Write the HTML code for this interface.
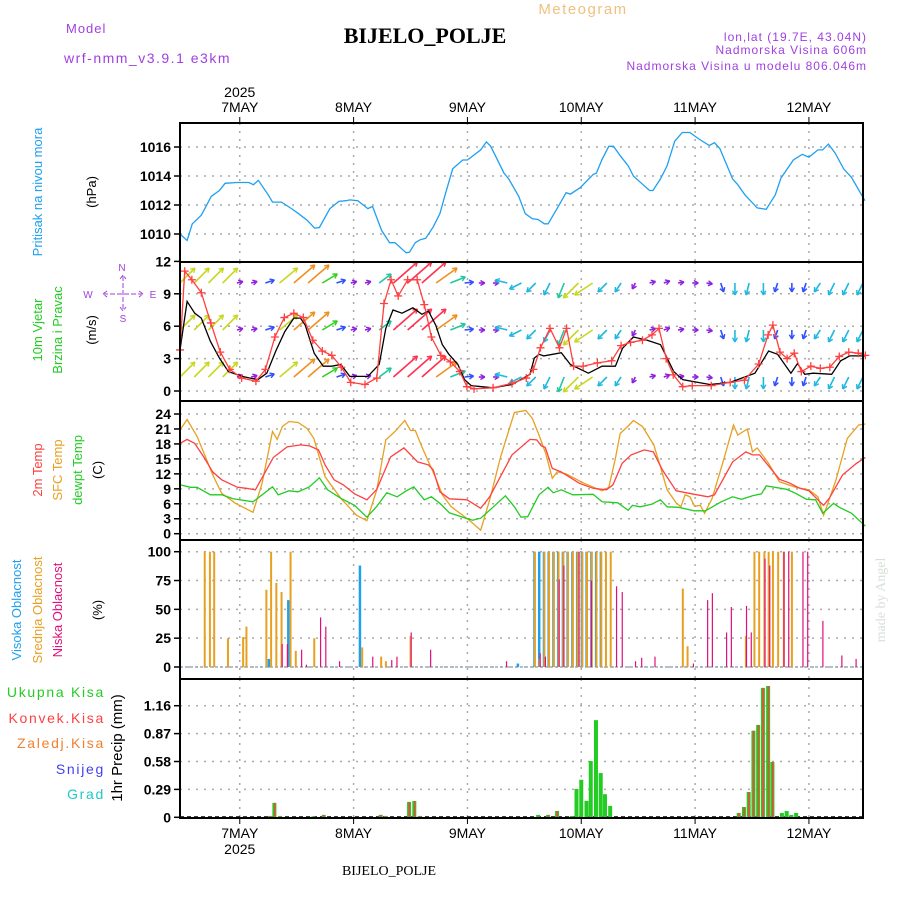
<!DOCTYPE html>
<html><head><meta charset="utf-8"><style>
body{margin:0;background:#fff;}
svg text{font-family:"Liberation Sans",sans-serif;}
</style></head><body>
<svg id="c" width="900" height="900" xmlns="http://www.w3.org/2000/svg">
<text x="66" y="33" font-size="13" fill="#a040e0" letter-spacing="1">Model</text>
<text x="64" y="63" font-size="14" fill="#a040e0" letter-spacing="1.5">wrf-nmm_v3.9.1 e3km</text>
<text x="425" y="43" font-size="22" font-weight="bold" text-anchor="middle" style="font-family:'Liberation Serif',serif" fill="#000">BIJELO_POLJE</text>
<text x="583" y="14" font-size="15" text-anchor="middle" fill="#f0c080" letter-spacing="1.5">Meteogram</text>
<text x="867" y="41" font-size="12" text-anchor="end" fill="#a040e0" letter-spacing="1">lon,lat (19.7E, 43.04N)</text>
<text x="867" y="54" font-size="12" text-anchor="end" fill="#a040e0" letter-spacing="1">Nadmorska Visina 606m</text>
<text x="867" y="70" font-size="12" text-anchor="end" fill="#a040e0" letter-spacing="1">Nadmorska Visina u modelu 806.046m</text>
<text x="389" y="875" font-size="14" text-anchor="middle" style="font-family:'Liberation Serif',serif" fill="#000">BIJELO_POLJE</text>
<text transform="translate(885,600) rotate(-90)" font-size="14" text-anchor="middle" style="font-family:'Liberation Serif',serif" fill="#d8e0d8">made by Angel</text>
<g id="g"></g>
</svg>
<script>
// ---- data ----
const dayLabels=["7MAY","8MAY","9MAY","10MAY","11MAY","12MAY"];
const dayHours=[12.6,36.6,60.6,84.6,108.6,132.6];
const presHours=[0,1.5,2.6,4.5,6.6,8.3,9.5,12,14.5,15.5,16.5,18.6,19.5,21.4,23.5,25,26.8,28.4,29.4,31.6,33.5,35,35.8,37.5,39.6,40.6,42.5,44.2,45.3,47.7,48.4,49.6,50.6,51.8,53.4,54.8,55.8,57.5,59.6,60.6,63.4,64.6,65.5,68.3,69.3,71.4,72.8,74.3,75.5,76.8,77.6,79.5,81.4,82.3,84.4,87.1,87.8,89,90.4,91.4,92.8,94.5,95.6,97.3,99,99.7,101.3,102.7,104.3,105.9,107.5,109.4,111.6,112.7,113.8,116.5,117.6,119.1,121.7,123.6,125.5,126.7,129.3,131.2,132.6,134.5,135.5,136.7,138.1,139.9,141.6,144.4];
const presVals=[1010.0,1009.55,1010.7,1011.3,1012.6,1013.0,1013.5,1013.55,1013.55,1013.4,1013.7,1012.7,1012.2,1012.2,1011.75,1011.4,1010.95,1010.4,1010.45,1011.75,1012.25,1012.3,1012.35,1012.3,1011.75,1011.9,1010.25,1009.4,1009.4,1008.7,1008.75,1009.4,1009.6,1009.7,1010.5,1011.4,1012.6,1014.5,1015.1,1015.1,1015.8,1016.35,1016.05,1014.2,1013.8,1012.6,1011.4,1011.05,1011.0,1010.7,1010.7,1011.75,1012.85,1012.75,1013.2,1014.1,1014.2,1015.15,1016.05,1016.05,1015.4,1014.7,1014.0,1013.5,1013.0,1013.0,1013.8,1014.7,1016.4,1017.0,1017.0,1016.55,1016.1,1016.3,1015.9,1013.8,1013.4,1012.7,1011.8,1011.7,1012.7,1013.85,1015.1,1015.5,1015.3,1015.8,1015.8,1016.2,1015.6,1014.5,1013.9,1012.3];
const windHours=[0,1.5,3.1,4.5,6.4,8.3,10.2,13.1,16.4,18.3,20.2,22.1,24,25.4,26.4,28.3,30.2,32,33.9,35.8,39.6,42,43.4,44.9,46.8,49.1,51,52.4,53.9,55.3,56.7,58.6,60,61.4,66,70,73.8,74.7,75.7,76.7,80.4,82.3,86.1,89,91.8,93.3,95.6,98.5,101.3,104.1,106,111.7,116,121.2,124.1,126,128.8,130.2,131.7,133.5,137.4,139.3,141.2,144.5];
const windSpeed=[3.8,8.3,7.2,6.75,4.6,3.05,1.8,1.35,1.05,1.65,3.7,5.5,6.75,6.75,6.1,3.5,2.3,2.3,2.45,1.35,1.35,2.45,5.8,7.5,7.2,7.7,7.1,7.4,6.1,4.3,3.4,2.45,1.05,0.5,0.3,0.6,1.55,3.05,3.4,3.25,3.55,2.45,1.65,2.3,2.3,3.95,5.0,4.7,4.3,1.8,1.05,0.6,0.8,1.65,3.7,3.4,1.65,2.55,1.55,1.65,1.55,2.8,3.25,3.25];
const gustHours=[0,1,2.5,4.5,6.5,8.5,10.5,13,16,18,20,22,24,26,28,30,32,34,36,39,41.5,43,44.5,46,48,50,51.5,53,55,57,59,60.5,62,66,70,73,74.5,76,78,80,81.5,83,85,88,91,93,95,97.5,99.5,101,102.5,104,106,108,112,116,119,122,124,125,126.5,128,129.5,131,133,135,137,139,141,143,144.5];
const gustSpeed=[3.8,11.1,10.3,9.1,6.3,3.6,2.0,1.2,0.9,2.0,5.0,6.8,7.2,6.8,4.7,3.7,3.3,2.2,0.8,0.6,1.2,8.1,10.3,8.8,10.3,10.3,8.0,5.0,3.3,2.7,1.8,0.4,0.2,0.3,0.7,1.2,2.0,4.0,5.8,4.0,5.8,2.3,2.3,2.6,2.8,4.2,4.5,4.7,5.2,5.8,3.0,1.5,0.4,0.5,0.5,0.8,1.0,2.5,5.2,6.1,3.6,3.0,3.5,1.8,2.3,2.1,2.2,3.2,3.6,3.5,3.3];
const arrowHours=[0,3,6,9,12,15,18,21,24,27,30,33,36,39,42,45,48,51,54,57,60,63,66,69,72,75,78,81,84,87,90,93,96,99,102,105,108,111,114,117,120,123,126,129,132,135,138,141,144];
const windU=[5,5,5,5,2,2,3,6,7,7,5,3,2,2,4,8,8,8,7,5,3,2,2,-4,-4,-3,-2,-2,-5,-6,-3,-2,-1,2,2,2,2,2,1,0,-1,0,-1,0,-1,-2,-2,-2,-2];
const windV=[5,5,5,5,0.5,0.5,1,5,6,6,3,1,0.5,0.5,3,7,7,7,5,2,0.3,0,0,1,-2,-3,-4,-5,-5,-4,-3,-3,-2,0.5,0.7,0.3,0,-0.3,-3,-4,-4,-4,-3,-3,-3,-3,-4,-4,-4];
const arrowLevels=[283,330,377];
const t2Hours=[0,1.5,3.1,5,6.9,8.8,12.1,14,15.9,19.7,22.6,25.4,27.3,29.2,30.6,32.5,34.4,36.8,39.4,41.5,44.4,47.2,50.1,52.4,53.4,54.8,56.8,60.5,63.4,65.3,70,73.8,75.2,76.2,77,78.5,80.4,84.2,87.1,89.9,91.3,93.2,95.1,97.9,99.8,101.7,104.6,107.9,111.3,112.7,116.5,119.3,120.7,122.2,126.4,128.4,130.7,132.6,134.5,135.7,136.9,139.7,142.6,144.5];
const t2Vals=[18.1,18.9,18.1,15.4,12.4,10.8,9.3,9.1,8.8,15.3,17.4,17.8,17.6,16.8,13.8,10.8,9.8,8.0,6.8,8.9,15.4,17.2,14.4,13.8,12.8,8.4,7.0,6.8,5.1,7.4,15.8,18.9,18.8,17.6,17.3,13.1,12.4,10.1,9.1,8.8,9.8,14.1,15.8,16.8,16.4,12.8,8.6,8.0,7.4,7.8,14.4,16.4,15.8,15.8,10.9,10.2,9.1,8.6,6.8,5.7,7.1,11.8,14.1,15.3];
const sfcHours=[0,1.5,3.6,5.5,6.9,8.8,11.7,15.4,17.3,19.5,20.5,21.6,23,24.9,26.8,28.2,30.6,33.9,37.2,39.4,41.5,43.4,45.3,47.4,48.6,49.6,51,53.8,55.3,57.2,61,63.4,65.3,67.6,70.5,72.9,74.3,75.7,77.1,78.5,79.5,81.4,85.2,89,90.4,91.8,92.8,94.7,95.6,97.5,99.9,101.3,102.7,104.6,105.6,106.5,107.5,108.5,109.7,110.6,112.2,114.6,116.7,117.6,119.6,120.7,121.7,124.1,126.4,129.8,132.6,134.5,135.7,136.6,138.3,140.7,143.1,144.5];
const sfcVals=[20.8,22.9,19.5,15.1,11.8,8.1,6.1,4.3,10.1,20.5,18.9,21.5,22.5,22.3,21.1,19.1,11.4,7.1,3.7,2.6,8.8,18.8,20.5,22.7,20.7,20.7,17.4,11.4,7.8,5.4,2.7,0.7,6.8,15.4,24.3,24.7,23.1,19.8,16.1,11.1,12.4,12.0,10.1,8.6,9.3,15.1,20.1,21.8,22.7,21.5,17.8,13.4,8.8,6.2,5.4,7.8,7.4,5.5,5.7,4.1,7.1,14.8,21.8,19.8,21.0,16.4,17.2,14.1,10.4,9.3,8.8,7.4,3.7,6.1,10.8,19.1,21.8,22.0];
const dewHours=[0,2.2,3.6,6.4,8.8,11.2,15.4,19.5,20.7,23,24.9,27.3,29.4,31.1,33.9,36.8,39.4,41.5,43.6,45.8,47.7,49.3,51.5,53,54.8,56.8,59.6,61.7,63.4,66.2,68.6,70.5,71.9,73.3,75.7,77.6,78.7,80.4,82.8,87.1,89,92.3,94.5,95.4,97,99.4,101.3,102.7,105.1,108.4,110.8,114.1,116.5,118.4,120.7,122.6,123.6,127.9,129.8,132.1,134,135.5,137.8,139,141.6,144.5];
const dewVals=[9.8,9.3,9.3,7.8,7.8,7.0,6.4,9.4,7.8,8.6,8.4,9.4,11.2,8.8,7.1,5.7,3.3,5.5,8.2,7.4,8.6,9.4,6.8,7.4,6.1,4.2,3.3,2.7,3.1,5.5,7.6,5.4,3.3,3.4,7.8,9.3,8.2,8.8,7.8,7.9,6.4,6.2,4.7,5.7,5.4,5.9,6.8,5.4,5.3,4.6,4.6,6.4,7.4,6.9,7.6,8.0,9.6,8.9,8.1,6.9,6.8,4.1,6.1,5.3,4.1,1.5];
const highHours=[19,23.1,38.2,71.5,75,76,77,78,79,80,81,82,83,84,85,86,87,88,89];
const highVals=[7,58,88,3,100,100,100,100,100,100,100,100,100,100,100,100,100,100,100];
const midHours=[5,6.1,7,9.9,13.1,13.8,18,19,20.1,21.2,23.1,24.2,28.1,38.2,42.2,43.2,48.4,74.6,75.6,76.6,77.6,78.6,79.6,80.6,81.6,82.6,83.6,84.6,85.6,86.6,87.6,88.6,89.6,90.6,105.8,106.8,119.1,120.9,121.9,123,123.9,124.8,125.9,127.1,128.8];
const midVals=[100,100,100,25,26,35,67,100,73,65,100,14,25,17,9,5,27,100,7,100,100,100,100,100,100,100,100,100,100,100,100,100,100,100,68,18,27,100,100,100,100,100,100,100,100];
const lowHours=[21.1,22.2,25.2,26.2,29.2,30.3,33.2,40.2,44.2,45.3,48.3,52.4,68.4,75.5,76.6,79.5,80.5,83.7,86.3,91.6,92.8,95.6,96.9,99.7,107.8,110.8,111.8,114.8,115.8,119,120,122.9,123.9,126.9,127.9,130.9,131.9,135.1,139.1,142.1];
const lowVals=[20,20,15,2,43,35,5,9,6,9,30,15,5,12,9,76,88,100,75,70,65,5,8,9,3,58,64,30,52,53,30,94,88,100,100,100,100,40,10,7];
const precHours=[19,19.9,21.1,28.1,30.3,42.3,43.4,48.3,49.4,50.5,75.5,77.6,79.5,82.6,83.6,84.6,85.7,86.6,87.7,88.7,89.6,90.7,117.8,118.9,119.9,120.9,121.9,122.9,124,124.9,126.9,127.9,128.9,129.9];
const precTotal=[0.014,0.15,0.014,0.01,0.025,0.025,0.014,0.16,0.17,0.014,0.025,0.025,0.066,0.014,0.295,0.39,0.17,0.585,1.01,0.46,0.24,0.118,0.045,0.107,0.263,0.9,0.96,1.345,1.365,0.575,0.045,0.066,0.025,0.045];
const precConv=[0.014,0.15,0.014,0,0.025,0.025,0.014,0.16,0.17,0.014,0.01,0.025,0.066,0,0,0,0,0,0,0,0,0,0.045,0.107,0.263,0.9,0.96,1.345,1.365,0.575,0,0,0,0];
const presTicks=[1010,1012,1014,1016];
const windTicks=[0,3,6,9,12];
const tempTicks=[0,3,6,9,12,15,18,21,24];
const cloudTicks=[0,25,50,75,100];
const precTicks=[0,0.29,0.58,0.87,1.16];

// ---- scales ----
const X0=180,X1=863;
const xs=h=>X0+h*(X1-X0)/144;
const yP=p=>147+(1016-p)*14.5;
const yW=s=>391-s*10.8;
const yT=t=>533.7-t*4.987;
const yC=c=>667-c*1.153;
const yR=v=>817.3-v*96.2;
const NS="http://www.w3.org/2000/svg";
const G=document.getElementById('g');
function mk(tag,attrs,parent){const e=document.createElementNS(NS,tag);for(const k in attrs)e.setAttribute(k,attrs[k]);(parent||G).appendChild(e);return e;}
const panels=[[123,262,presTicks,yP,'pressure'],[262,401,windTicks,yW,'wind'],[401,540,tempTicks,yT,'temperature'],[540,679,cloudTicks,yC,'cloud'],[679,818,precTicks,yR,'precip']];
panels.forEach(([t,b,ticks,f,nm])=>{
  dayHours.forEach(h=>{const l=mk('line',{x1:xs(h),x2:xs(h),y1:t,y2:b,stroke:'#aaa','stroke-width':1.5,'stroke-dasharray':'2,6'});
    
    });
  ticks.forEach(v=>{const y=f(v);
    if(y>t+2&&y<b-2){const l=mk('line',{x1:X0,x2:X1,y1:y,y2:y,stroke:'#aaa','stroke-width':1.5,'stroke-dasharray':'2,6'});
      
      }
    mk('line',{x1:X0-6,x2:X0,y1:y,y2:y,stroke:'#000','stroke-width':1.5});
    const tx=mk('text',{x:X0-9,y:y+5,'font-size':14,'font-weight':'bold','text-anchor':'end',fill:'#000'});
    tx.textContent=String(v);
    
    
  });
});
function line(hs,vs,f,color,name){const d=hs.map((h,i)=>(i?'L':'M')+xs(h).toFixed(1)+','+f(vs[i]).toFixed(1)).join('');
  const p=mk('path',{d,fill:'none',stroke:color,'stroke-width':1.3});
  
  return p;}
// pressure
line(presHours,presVals,yP,'#1ea0f0','pressure-line');
// wind arrows
function acol(m){return m<2.5?'#9020e0':m<3.5?'#3050ff':m<4.5?'#20b8e0':m<5.5?'#20c8a0':m<6.5?'#30d020':m<8?'#c8d820':m<9.5?'#f09020':'#ff3050';}
arrowLevels.forEach(by=>{arrowHours.forEach((h,i)=>{
  const u=windU[i],v=windV[i],m=Math.hypot(u,v);const x=xs(h),ex=x+u*3,ey=by-v*3;const c=acol(m);
  const a=mk('line',{x1:x,y1:by,x2:ex,y2:ey,stroke:c,'stroke-width':1.6});
  
  
  const ang=Math.atan2(ey-by,ex-x);
  [2.6,-2.6].forEach(da=>{mk('line',{x1:ex,y1:ey,x2:ex-5*Math.cos(ang+da*0.2),y2:ey-5*Math.sin(ang+da*0.2),stroke:c,'stroke-width':1.4});});
});});
line(windHours,windSpeed,yW,'#000','wind-speed-line');
line(gustHours,gustSpeed,yW,'#ff4040','wind-gust-line');
gustHours.forEach((h,i)=>{const x=xs(h),y=yW(gustSpeed[i]);
  const p=mk('path',{d:`M${x-4},${y}H${x+4}M${x},${y-4}V${y+4}`,stroke:'#ff4040','stroke-width':1.3});
  
  });
// temps
line(sfcHours,sfcVals,yT,'#e8a020','sfc-temp-line');
line(t2Hours,t2Vals,yT,'#ff4040','2m-temp-line');
line(dewHours,dewVals,yT,'#22cc22','dewpoint-line');
// clouds
mk('line',{x1:X0,x2:X1,y1:667,y2:667,stroke:'#9ab','stroke-width':1.5,'stroke-dasharray':'3,2'});
function bars(hs,vs,f,color,off,w,name){hs.forEach((h,i)=>{const y=f(vs[i]);const r=mk('rect',{x:xs(h)+off,y:y,width:w,height:Math.max(0,f(0)-y),fill:color});
  
  });}
bars(highHours,highVals,yC,'#1ea0f0',-2.5,2.5,'high-cloud-bar');
bars(midHours,midVals,yC,'#e8a020',0,2,'mid-cloud-bar');
bars(lowHours,lowVals,yC,'#e0107a',1.5,1.2,'low-cloud-bar');
// precip
mk('line',{x1:X0,x2:X1,y1:817,y2:817,stroke:'#000','stroke-width':1.5,'stroke-dasharray':'4,3'});
bars(precHours,precTotal,yR,'#22cc22',-2,4,'total-precip-bar');
bars(precHours,precConv,yR,'#ff4040',-0.5,1.5,'convective-precip-bar');
// frames
panels.forEach(([t,b,,,nm])=>{const r=mk('rect',{x:X0,y:t,width:X1-X0,height:b-t,fill:'none',stroke:'#000','stroke-width':2});
  
  });
// day labels
dayHours.forEach((h,i)=>{const x=xs(h);
  mk('line',{x1:x,x2:x,y1:117,y2:123,stroke:'#000'});mk('line',{x1:x,x2:x,y1:818,y2:824,stroke:'#000'});
  [[112,'top'],[838,'bottom']].forEach(([y,pos])=>{const t=mk('text',{x:x,y:y,'font-size':14,'text-anchor':'middle',fill:'#000'});t.textContent=dayLabels[i];
    
    });
});
[[97,'top'],[854,'bottom']].forEach(([y,pos])=>{const t=mk('text',{x:xs(dayHours[0]),y:y,'font-size':14,'text-anchor':'middle',fill:'#000'});t.textContent='2025';
  
  });
// rotated axis titles
function vt(x,y,txt,color,name,fs){const t=mk('text',{transform:`translate(${x},${y}) rotate(-90)`,'font-size':fs||13,'text-anchor':'middle',fill:color});t.textContent=txt;
  
  }
vt(42,192,'Pritisak na nivou mora','#1ea0f0','pressure-title');
vt(96,192,'(hPa)','#000','pressure-unit');
vt(42,330,'10m Vjetar','#22cc22','wind-title-1');
vt(62,330,'Brzina i Pravac','#22cc22','wind-title-2');
vt(96,330,'(m/s)','#000','wind-unit');
vt(42,470,'2m Temp','#ff4040','t2-title');
vt(62,470,'SFC Temp','#e8a020','sfc-title');
vt(82,470,'dewpt Temp','#22cc22','dew-title');
vt(102,470,'(C)','#000','temp-unit');
vt(21,610,'Visoka Oblacnost','#1ea0f0','high-cloud-title');
vt(42,610,'Srednja Oblacnost','#e8a020','mid-cloud-title');
vt(62,610,'Niska Oblacnost','#e0107a','low-cloud-title');
vt(102,610,'(%)','#000','cloud-unit');
vt(122,748,'1hr Precip (mm)','#000','precip-title',15);
// compass
const cg=mk('g',{fill:'#a040e0','font-size':10,'text-anchor':'middle'});


[['N',122,271],['W',88,298],['E',153,298],['S',123,322]].forEach(([s,x,y])=>{const t=mk('text',{x,y},cg);t.textContent=s;});
mk('path',{d:'M103,294H143M107,291L103,294L107,297M139,291L143,294L139,297M123,276V311M120,279L123,275L126,279M120,307L123,311L126,307',stroke:'#a040e0','stroke-width':1,fill:'none','stroke-dasharray':'5,2'},cg);
[['Ukupna Kisa','#22cc22',697],['Konvek.Kisa','#ff4040',723],['Zaledj.Kisa','#f08030',748],['Snijeg','#4040f0',774],['Grad','#20c8c8',799]].forEach(([s,c,y])=>{
  const t=mk('text',{x:105,y:y,'font-size':14,'text-anchor':'end',fill:c,'letter-spacing':1.7});t.textContent=s;
  
  });
</script>
</body></html>
